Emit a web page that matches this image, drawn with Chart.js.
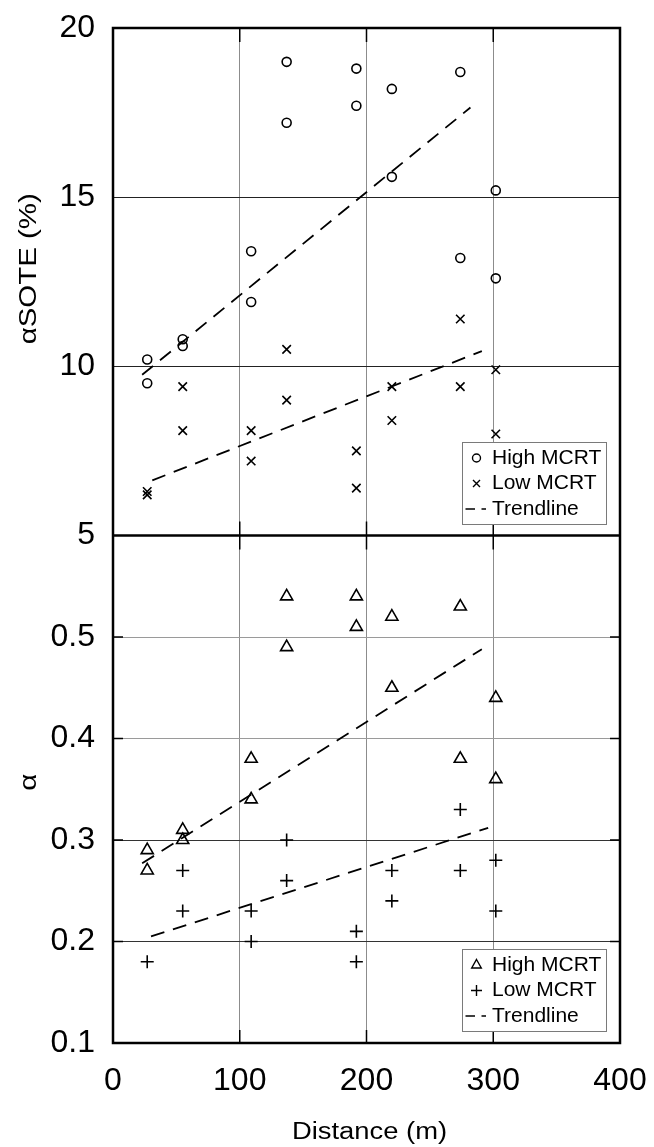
<!DOCTYPE html>
<html>
<head>
<meta charset="utf-8">
<title>SOTE and alpha vs distance</title>
<script src="https://cdn.jsdelivr.net/npm/chart.js"></script>
<style>
  html, body { margin: 0; padding: 0; background: #fff; }
  #wrap { width: 654px; height: 1147px; }
</style>
</head>
<body>
<div id="wrap"><canvas id="alphaChart" width="654" height="1147"></canvas></div>
<script>
// sampling distances (m)
const distHigh = [27, 27, 55, 55, 109, 109, 137, 137, 192, 192, 220, 220, 274, 274, 302, 302];
const distLow = [27, 27, 55, 55, 109, 109, 137, 137, 192, 192, 220, 220, 274, 274, 302, 302];
const distLowAlpha = [27, 55, 55, 109, 109, 137, 137, 192, 192, 220, 220, 274, 274, 302, 302];

// top panel: alpha SOTE (%)
const soteHigh = [10.2, 9.5, 10.8, 10.6, 13.4, 11.9, 19.0, 17.2, 18.8, 17.7, 18.2, 15.6, 18.7, 13.2, 15.2, 12.6];
const soteLow = [6.3, 6.2, 9.4, 8.1, 8.1, 7.2, 10.5, 9.0, 7.5, 6.4, 9.4, 8.4, 11.4, 9.4, 9.9, 8.0];

// bottom panel: alpha
const alphaHigh = [0.29, 0.27, 0.31, 0.30, 0.38, 0.34, 0.54, 0.49, 0.54, 0.51, 0.52, 0.45, 0.53, 0.38, 0.44, 0.36];
const alphaLow = [0.18, 0.27, 0.23, 0.23, 0.20, 0.30, 0.26, 0.21, 0.18, 0.27, 0.24, 0.33, 0.27, 0.28, 0.23];

// trendlines, start and end
const soteHighTrendX = [23, 282];
const soteHighTrendY = [9.75, 17.65];
const soteLowTrendX = [31, 291];
const soteLowTrendY = [6.63, 10.45];
const alphaHighTrendX = [23, 291];
const alphaHighTrendY = [0.277, 0.488];
const alphaLowTrendX = [30, 296];
const alphaLowTrendY = [0.205, 0.312];

// axis ticks
const distTicks = [0, 100, 200, 300, 400];
const soteTicks = [5, 10, 15, 20];
const alphaTicks = [0.1, 0.2, 0.3, 0.4, 0.5];

const xTitle = 'Distance (m)';
const soteTitle = 'αSOTE (%)';
const alphaTitle = 'α';
const legendLabels = ['High MCRT', 'Low MCRT', 'Trendline'];

const FONT = '"Liberation Sans", Arial, Helvetica, sans-serif';

function toXY(xs, ys) {
    return xs.map((x, i) => ({ x: x, y: ys[i] }));
}

function markers(label, xs, ys, axis, style, r) {
    return {
        label: label,
        data: toXY(xs, ys),
        yAxisID: axis,
        showLine: false,
        pointStyle: style,
        pointRadius: r,
        pointBorderWidth: 1.6,
        pointBorderColor: '#000',
        pointBackgroundColor: 'rgba(0,0,0,0)'
    };
}

function trend(xs, ys, axis) {
    return {
        label: 'Trendline',
        data: toXY(xs, ys),
        yAxisID: axis,
        showLine: true,
        pointRadius: 0,
        borderColor: '#000',
        borderWidth: 1.8,
        borderDash: [14, 9],
        fill: false
    };
}

// no extra room for end labels, the layout padding sets the plot box
function noPadding(s) {
    s.paddingTop = 0;
    s.paddingBottom = 0;
    s.paddingLeft = 0;
    s.paddingRight = 0;
}

// frame, boundary line and inward tick marks
const framePlugin = {
    id: 'frame',
    afterDatasetsDraw(chart) {
        const { ctx, chartArea: a, scales } = chart;
        const yb = scales.y.bottom;
        ctx.save();
        ctx.strokeStyle = '#000';
        ctx.lineWidth = 1.5;
        ctx.beginPath();
        distTicks.slice(1, -1).forEach(v => {
            const px = scales.x.getPixelForValue(v);
            ctx.moveTo(px, a.top); ctx.lineTo(px, a.top + 14);
            ctx.moveTo(px, yb - 14); ctx.lineTo(px, yb + 14);
            ctx.moveTo(px, a.bottom); ctx.lineTo(px, a.bottom - 13);
        });
        alphaTicks.slice(1).forEach(v => {
            const py = scales.y2.getPixelForValue(v);
            ctx.moveTo(a.left, py); ctx.lineTo(a.left + 10, py);
            ctx.moveTo(a.right, py); ctx.lineTo(a.right - 10, py);
        });
        ctx.stroke();
        ctx.lineWidth = 2.5;
        ctx.strokeRect(a.left, a.top, a.width, a.height);
        ctx.beginPath();
        ctx.moveTo(a.left, yb);
        ctx.lineTo(a.right, yb);
        ctx.stroke();
        ctx.restore();
    }
};

// one boxed legend inside each panel
const panelLegends = [
    { axis: 'y', symbols: ['circle', 'crossRot', 'dash'] },
    { axis: 'y2', symbols: ['triangle', 'cross', 'dash'] }
];

function legendSymbol(ctx, type, x, y) {
    ctx.beginPath();
    if (type === 'circle') {
        ctx.arc(x, y, 4, 0, Math.PI * 2);
    } else if (type === 'crossRot') {
        ctx.moveTo(x - 3.5, y - 3.5); ctx.lineTo(x + 3.5, y + 3.5);
        ctx.moveTo(x + 3.5, y - 3.5); ctx.lineTo(x - 3.5, y + 3.5);
    } else if (type === 'triangle') {
        ctx.moveTo(x, y - 5.5); ctx.lineTo(x + 4.8, y + 3); ctx.lineTo(x - 4.8, y + 3); ctx.closePath();
    } else if (type === 'cross') {
        ctx.moveTo(x - 5.5, y); ctx.lineTo(x + 5.5, y);
        ctx.moveTo(x, y - 5.5); ctx.lineTo(x, y + 5.5);
    } else {
        ctx.moveTo(x - 11, y); ctx.lineTo(x - 1.5, y);
        ctx.moveTo(x + 5, y); ctx.lineTo(x + 9.5, y);
    }
    ctx.stroke();
}

const legendPlugin = {
    id: 'panelLegend',
    afterDraw(chart) {
        const { ctx, chartArea: a } = chart;
        const w = 144, h = 82;
        panelLegends.forEach(lg => {
            const s = chart.scales[lg.axis];
            const left = Math.round(a.right - 14 - w);
            const top = Math.round(s.bottom - 12 - h);
            ctx.save();
            ctx.fillStyle = '#fff';
            ctx.fillRect(left, top, w, h);
            ctx.strokeStyle = '#7a7a7a';
            ctx.lineWidth = 1;
            ctx.strokeRect(left + 0.5, top + 0.5, w, h);
            ctx.font = '21px ' + FONT;
            ctx.textAlign = 'left';
            ctx.textBaseline = 'middle';
            legendLabels.forEach((text, i) => {
                const cy = top + 16 + i * 25.5;
                ctx.strokeStyle = '#000';
                ctx.lineWidth = 1.4;
                legendSymbol(ctx, lg.symbols[i], left + 14.5, cy);
                ctx.fillStyle = '#000';
                ctx.fillText(text, left + 30, cy);
            });
            ctx.restore();
        });
    }
};

// axis titles; the original lettering is wider than Arial, so stretch it along the text
function wideText(ctx, text, x, y, rotation, stretch) {
    ctx.save();
    ctx.translate(x, y);
    ctx.rotate(rotation);
    ctx.scale(stretch, 1);
    ctx.fillText(text, 0, 0);
    ctx.restore();
}

const titlePlugin = {
    id: 'axisTitles',
    afterDraw(chart) {
        const { ctx, chartArea: a, scales } = chart;
        ctx.save();
        ctx.fillStyle = '#000';
        ctx.font = '23px ' + FONT;
        ctx.textAlign = 'center';
        ctx.textBaseline = 'middle';
        wideText(ctx, xTitle, (a.left + a.right) / 2 + 3, a.bottom + 90, 0, 1.19);
        wideText(ctx, soteTitle, 30, (scales.y.top + scales.y.bottom) / 2 - 13, -Math.PI / 2, 1.28);
        wideText(ctx, alphaTitle, 30, (scales.y2.top + scales.y2.bottom) / 2 - 7, -Math.PI / 2, 1.28);
        ctx.restore();
    }
};

const tickFont = { family: FONT, size: 32 };

const ctx = document.getElementById('alphaChart').getContext('2d');
const alphaChart = new Chart(ctx, {
    type: 'scatter',
    data: {
        datasets: [
            markers('High MCRT', distHigh, soteHigh, 'y', 'circle', 4.5),
            markers('Low MCRT', distLow, soteLow, 'y', 'crossRot', 6),
            markers('High MCRT', distHigh, alphaHigh, 'y2', 'triangle', 7),
            markers('Low MCRT', distLowAlpha, alphaLow, 'y2', 'cross', 6.5),
            trend(soteHighTrendX, soteHighTrendY, 'y'),
            trend(soteLowTrendX, soteLowTrendY, 'y'),
            trend(alphaHighTrendX, alphaHighTrendY, 'y2'),
            trend(alphaLowTrendX, alphaLowTrendY, 'y2')
        ]
    },
    options: {
        responsive: false,
        animation: false,
        events: [],
        layout: { padding: { top: 28, right: 34, bottom: 0, left: 0 } },
        plugins: {
            legend: { display: false },
            tooltip: { enabled: false }
        },
        scales: {
            x: {
                type: 'linear',
                min: 0,
                max: 400,
                afterBuildTicks: s => { s.ticks = distTicks.map(v => ({ value: v })); },
                afterFit: s => { s.height = 104; noPadding(s); },
                grid: { color: '#8c8c8c', lineWidth: 1, drawTicks: false },
                border: { display: false },
                ticks: { padding: 19, color: '#000', font: tickFont, maxRotation: 0 }
            },
            // first axis of the stack sits at the bottom
            y2: {
                type: 'linear',
                position: 'left',
                stack: 'panels',
                stackWeight: 1,
                min: 0.1,
                max: 0.6,
                afterBuildTicks: s => { s.ticks = alphaTicks.map(v => ({ value: v })); },
                afterFit: s => { s.width = 113; noPadding(s); },
                grid: {
                    color: c => (c.tick && c.tick.value > 0.35 ? '#9a9a9a' : '#333'),
                    lineWidth: 1,
                    drawTicks: false
                },
                border: { display: false },
                ticks: {
                    padding: 18,
                    color: '#000',
                    font: tickFont,
                    callback: v => v.toFixed(1)
                }
            },
            y: {
                type: 'linear',
                position: 'left',
                stack: 'panels',
                stackWeight: 1,
                min: 5,
                max: 20,
                afterBuildTicks: s => { s.ticks = soteTicks.map(v => ({ value: v })); },
                afterFit: s => { s.width = 113; noPadding(s); },
                grid: { color: '#222', lineWidth: 1, drawTicks: false },
                border: { display: false },
                ticks: { padding: 18, color: '#000', font: tickFont }
            }
        }
    },
    plugins: [framePlugin, legendPlugin, titlePlugin]
});
</script>
</body>
</html>
